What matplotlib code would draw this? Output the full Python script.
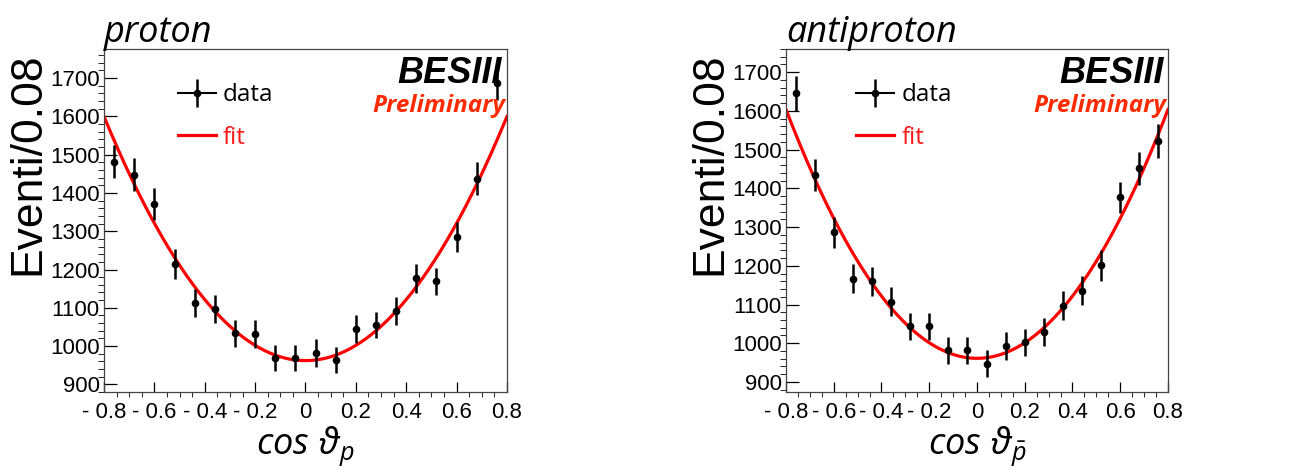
import matplotlib
matplotlib.use("Agg")
import matplotlib.pyplot as plt
import numpy as np
from matplotlib.lines import Line2D
from matplotlib.legend_handler import HandlerTuple

# bin centres of cos(theta), bin width 0.08
cos_bins = [-0.76, -0.68, -0.60, -0.52, -0.44, -0.36, -0.28, -0.20, -0.12, -0.04,
            0.04, 0.12, 0.20, 0.28, 0.36, 0.44, 0.52, 0.60, 0.68, 0.76]

# proton
proton_counts = [1482, 1448, 1371, 1214, 1112, 1097, 1033, 1032, 970, 969,
                 982, 964, 1044, 1055, 1092, 1177, 1169, 1285, 1437, 1687]
proton_err = [42, 43, 41, 39, 37, 37, 35, 36, 34, 35,
              36, 34, 36, 35, 37, 38, 36, 40, 43, 43]
proton_fit = {"norm": 962, "alpha": 1.036}

# antiproton
antiproton_counts = [1646, 1435, 1287, 1167, 1160, 1107, 1044, 1044, 982, 982,
                     947, 992, 1003, 1029, 1097, 1136, 1201, 1377, 1452, 1522]
antiproton_err = [45, 42, 40, 37, 38, 37, 35, 35, 35, 35,
                  35, 36, 35, 35, 37, 38, 40, 40, 43, 43]
antiproton_fit = {"norm": 961, "alpha": 1.045}

x_ticks = [-0.8, -0.6, -0.4, -0.2, 0, 0.2, 0.4, 0.6, 0.8]
x_ticklabels = ["- 0.8", "- 0.6", "- 0.4", "- 0.2", "0", "0.2", "0.4", "0.6", "0.8"]
y_ticks = [900, 1000, 1100, 1200, 1300, 1400, 1500, 1600, 1700]

plt.rcParams["mathtext.fontset"] = "custom"
plt.rcParams["mathtext.it"] = "Open Sans:italic"
plt.rcParams["mathtext.rm"] = "Open Sans"

CAL = ["Open Sans", "DejaVu Sans"]
HEL = ["Liberation Sans", "DejaVu Sans"]


def draw_panel(ax, counts, errs, fit, ylim, title, xlabel, ylab_x):
    # fitted curve N(1 + alpha cos^2)
    xs = np.linspace(-0.8, 0.8, 400)
    ax.plot(xs, fit["norm"] * (1 + fit["alpha"] * xs ** 2), color="#ff0000", lw=2.3, zorder=2)
    ax.errorbar(cos_bins, counts, yerr=errs, fmt="o", color="black", ms=4.5,
                elinewidth=1.8, capsize=0, zorder=3)

    ax.set_xlim(-0.8, 0.8)
    ax.set_ylim(*ylim)
    ax.set_xticks(x_ticks)
    ax.set_xticklabels(x_ticklabels)
    ax.set_xticks(np.arange(-0.8, 0.801, 0.05), minor=True)
    ax.set_yticks(y_ticks)
    ax.set_yticks(np.arange(880, 1780, 20), minor=True)
    ax.tick_params(axis="both", direction="in", top=False, right=False, width=0.9,
                   labelsize=16, colors="black")
    ax.tick_params(axis="y", which="major", length=9, pad=3)
    ax.tick_params(axis="y", which="minor", length=4.5)
    ax.tick_params(axis="x", which="major", length=7.5, pad=7)
    ax.tick_params(axis="x", which="minor", length=3.7)
    for lab in ax.get_xticklabels() + ax.get_yticklabels():
        lab.set_family(HEL)
    for sp in ax.spines.values():
        sp.set_linewidth(0.9)
        sp.set_color("#444444")

    ax.text(0.0, 1.02, title, transform=ax.transAxes, ha="left", va="baseline",
            fontsize=26, style="italic", family=CAL)
    ax.text(0.5, -0.18, xlabel, transform=ax.transAxes, ha="center", va="baseline",
            fontsize=26)
    ax.text(ylab_x, 0.99, "Eventi/0.08", transform=ax.transAxes, rotation=90,
            ha="center", va="top", fontsize=32, family=HEL)

    ax.text(0.988, 0.90, "BESIII", transform=ax.transAxes, ha="right", va="baseline",
            fontsize=26, fontweight="bold", style="italic", family=HEL)
    ax.text(0.995, 0.816, "Preliminary", transform=ax.transAxes, ha="right", va="baseline",
            fontsize=17.5, fontweight="bold", style="italic", color="#ff2a00", family=CAL)

    data_h = (Line2D([], [], color="black", lw=1.5, marker="o", ms=4.5),
              Line2D([], [], ls="none", color="black", marker="|", ms=20, mew=1.8))
    fit_h = Line2D([], [], color="#ff0000", lw=2.3)
    leg = ax.legend([data_h, fit_h], ["data", "fit"],
                    handler_map={tuple: HandlerTuple(ndivide=1, pad=0)},
                    loc="upper left", bbox_to_anchor=(0.184, 0.90), frameon=False,
                    prop={"family": CAL, "size": 17.5}, handlelength=1.55,
                    handletextpad=0.3, labelspacing=0.75, borderpad=0, borderaxespad=0)
    leg.get_texts()[1].set_color("#ff1a1a")


fig = plt.figure(figsize=(13.14, 4.70), dpi=100)
ax1 = fig.add_axes([104 / 1314, 78 / 470, 403 / 1314, 343 / 470])
ax2 = fig.add_axes([786 / 1314, 78 / 470, 382 / 1314, 343 / 470])

draw_panel(ax1, proton_counts, proton_err, proton_fit, (890, 1776), "proton",
           r"$cos\ \vartheta_{p}$", -0.189)
draw_panel(ax2, antiproton_counts, antiproton_err, antiproton_fit, (874, 1732), "antiproton",
           r"$cos\ \vartheta_{\bar{p}}$", -0.20)

fig.savefig("out.png", dpi=100)
